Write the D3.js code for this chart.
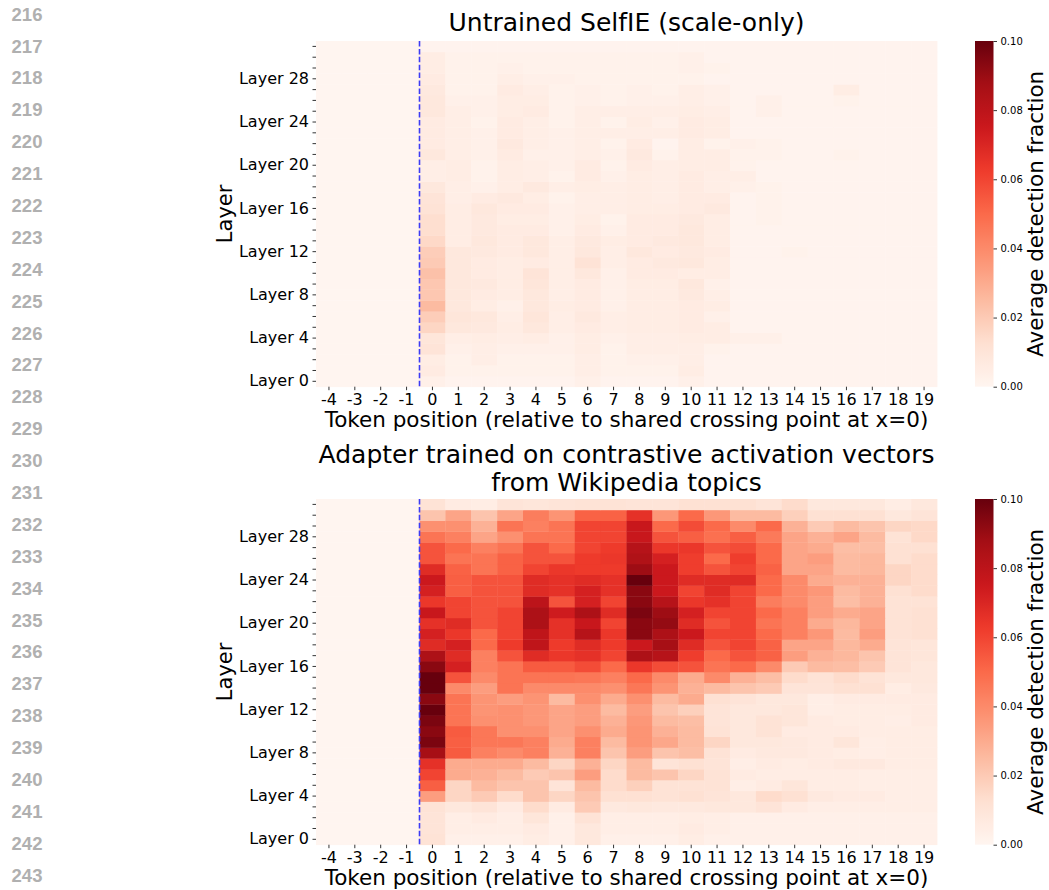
<!DOCTYPE html>
<html>
<head>
<meta charset="utf-8">
<script src="https://cdn.jsdelivr.net/npm/d3@7"></script>
<style>
  html, body { margin: 0; padding: 0; background: #ffffff; }
  svg { display: block; }
  text { font-family: "DejaVu Sans", sans-serif; }
</style>
</head>
<body>
<svg id="fig" width="1049" height="890"></svg>
<script>
// ---- data -------------------------------------------------------------
// token positions relative to the shared crossing point
const positions = d3.range(-4, 20);
// transformer layers
const layers = d3.range(0, 32);
// layers that carry a text label on the y axis
const labelledLayers = [0, 4, 8, 12, 16, 20, 24, 28];
// colour bar ticks
const cbarTicks = [0.00, 0.02, 0.04, 0.06, 0.08, 0.10];
// manuscript line numbers in the margin
const lineNumbers = d3.range(216, 244);
// Reds colour map anchors
const redsStops = ["#fff5f0", "#fee0d2", "#fcbba1", "#fc9272", "#fb6a4a",
                   "#ef3b2c", "#cb181d", "#a50f15", "#67000d"];

// positions -4..-1 lie before the crossing point: nothing detected there
const beforeCrossing = [0, 0, 0, 0];

// Untrained SelfIE (scale-only): rows are layers 0..31, columns positions 0..19
const untrained = [
  [0.003,0.001,0.001,0.001,0.001,0.001,0.003,0.001,0.001,0.001, 0.003,0.001,0.001,0.001,0.001,0.001,0.001,0.001,0.001,0.001],
  [0.006,0.002,0.002,0.002,0.002,0.002,0.004,0.002,0.002,0.002, 0.005,0.001,0.001,0.001,0.001,0.001,0.001,0.001,0.001,0.001],
  [0.005,0.002,0.004,0.002,0.002,0.002,0.004,0.002,0.003,0.003, 0.004,0.001,0.001,0.001,0.001,0.001,0.001,0.001,0.001,0.001],
  [0.010,0.003,0.004,0.003,0.003,0.003,0.005,0.002,0.004,0.004, 0.004,0.002,0.001,0.001,0.001,0.001,0.001,0.001,0.001,0.001],
  [0.009,0.004,0.005,0.004,0.005,0.003,0.005,0.003,0.004,0.004, 0.005,0.005,0.003,0.003,0.001,0.001,0.001,0.001,0.001,0.001],
  [0.016,0.008,0.007,0.005,0.008,0.004,0.006,0.004,0.005,0.005, 0.006,0.005,0.001,0.001,0.001,0.001,0.001,0.001,0.001,0.001],
  [0.019,0.009,0.008,0.004,0.009,0.004,0.007,0.004,0.005,0.005, 0.006,0.003,0.001,0.001,0.001,0.001,0.001,0.001,0.001,0.001],
  [0.025,0.008,0.005,0.003,0.008,0.005,0.006,0.003,0.005,0.005, 0.006,0.005,0.001,0.001,0.001,0.001,0.001,0.001,0.001,0.001],
  [0.021,0.008,0.006,0.005,0.008,0.004,0.006,0.003,0.005,0.005, 0.007,0.004,0.001,0.001,0.001,0.001,0.001,0.001,0.001,0.001],
  [0.021,0.008,0.007,0.005,0.009,0.004,0.006,0.003,0.005,0.005, 0.008,0.003,0.001,0.001,0.001,0.001,0.001,0.001,0.001,0.001],
  [0.023,0.008,0.006,0.005,0.010,0.004,0.008,0.003,0.006,0.006, 0.005,0.005,0.001,0.001,0.001,0.001,0.001,0.001,0.001,0.001],
  [0.020,0.008,0.006,0.005,0.006,0.004,0.011,0.004,0.006,0.007, 0.008,0.005,0.001,0.001,0.001,0.001,0.001,0.001,0.001,0.001],
  [0.019,0.008,0.007,0.006,0.008,0.004,0.008,0.004,0.008,0.006, 0.007,0.006,0.001,0.001,0.002,0.001,0.001,0.001,0.001,0.001],
  [0.015,0.005,0.008,0.006,0.008,0.004,0.007,0.005,0.006,0.007, 0.008,0.005,0.001,0.001,0.001,0.001,0.001,0.001,0.001,0.001],
  [0.013,0.005,0.007,0.006,0.006,0.003,0.006,0.003,0.006,0.006, 0.008,0.005,0.001,0.001,0.001,0.001,0.001,0.001,0.001,0.001],
  [0.013,0.005,0.007,0.005,0.005,0.003,0.005,0.002,0.006,0.006, 0.007,0.005,0.001,0.002,0.001,0.001,0.001,0.001,0.001,0.001],
  [0.011,0.005,0.008,0.006,0.006,0.003,0.004,0.004,0.005,0.005, 0.006,0.007,0.001,0.002,0.001,0.001,0.001,0.001,0.001,0.001],
  [0.010,0.004,0.006,0.007,0.005,0.002,0.004,0.004,0.005,0.004, 0.006,0.006,0.001,0.002,0.001,0.001,0.001,0.001,0.001,0.001],
  [0.008,0.004,0.003,0.005,0.007,0.004,0.005,0.004,0.005,0.004, 0.006,0.004,0.003,0.002,0.001,0.001,0.001,0.001,0.001,0.001],
  [0.004,0.005,0.002,0.005,0.004,0.002,0.006,0.003,0.005,0.004, 0.006,0.004,0.004,0.001,0.001,0.001,0.001,0.001,0.001,0.001],
  [0.004,0.005,0.002,0.005,0.004,0.003,0.006,0.002,0.006,0.004, 0.005,0.005,0.002,0.001,0.001,0.001,0.001,0.001,0.001,0.001],
  [0.008,0.004,0.003,0.006,0.003,0.003,0.004,0.003,0.007,0.002, 0.005,0.005,0.002,0.002,0.001,0.001,0.002,0.001,0.001,0.001],
  [0.006,0.004,0.003,0.007,0.004,0.003,0.004,0.002,0.006,0.001, 0.005,0.002,0.003,0.002,0.001,0.001,0.001,0.001,0.001,0.001],
  [0.006,0.004,0.003,0.006,0.004,0.003,0.004,0.004,0.004,0.004, 0.006,0.005,0.001,0.001,0.001,0.001,0.001,0.001,0.001,0.001],
  [0.006,0.004,0.002,0.006,0.004,0.002,0.004,0.002,0.005,0.003, 0.006,0.005,0.001,0.001,0.001,0.001,0.001,0.001,0.001,0.001],
  [0.008,0.004,0.003,0.005,0.006,0.002,0.004,0.004,0.004,0.004, 0.005,0.004,0.001,0.003,0.001,0.001,0.001,0.001,0.001,0.001],
  [0.008,0.003,0.003,0.005,0.005,0.002,0.003,0.002,0.003,0.003, 0.004,0.003,0.001,0.003,0.001,0.001,0.002,0.001,0.001,0.001],
  [0.007,0.002,0.002,0.006,0.004,0.002,0.003,0.002,0.003,0.002, 0.004,0.003,0.001,0.001,0.001,0.001,0.005,0.001,0.001,0.001],
  [0.006,0.002,0.002,0.004,0.003,0.003,0.002,0.002,0.002,0.002, 0.002,0.001,0.001,0.001,0.001,0.001,0.001,0.001,0.001,0.001],
  [0.005,0.002,0.002,0.003,0.002,0.002,0.002,0.002,0.002,0.002, 0.003,0.002,0.001,0.001,0.001,0.001,0.001,0.001,0.001,0.001],
  [0.005,0.002,0.002,0.002,0.002,0.002,0.002,0.002,0.002,0.002, 0.003,0.001,0.001,0.001,0.001,0.001,0.001,0.001,0.001,0.001],
  [0.001,0.001,0.001,0.001,0.001,0.001,0.001,0.001,0.001,0.001, 0.001,0.001,0.001,0.001,0.001,0.001,0.001,0.001,0.001,0.001]
];

// Adapter trained on contrastive activation vectors: rows are layers 0..31, columns positions 0..19
const adapter = [
  [0.011,0.003,0.003,0.003,0.005,0.003,0.008,0.003,0.003,0.003, 0.005,0.003,0.003,0.003,0.003,0.003,0.003,0.003,0.003,0.003],
  [0.010,0.004,0.004,0.004,0.006,0.003,0.008,0.004,0.004,0.004, 0.006,0.004,0.003,0.003,0.003,0.003,0.003,0.003,0.003,0.003],
  [0.010,0.004,0.006,0.004,0.009,0.003,0.011,0.004,0.004,0.004, 0.005,0.004,0.003,0.003,0.003,0.003,0.003,0.003,0.003,0.003],
  [0.011,0.008,0.010,0.006,0.014,0.006,0.020,0.007,0.008,0.007, 0.007,0.008,0.008,0.010,0.006,0.004,0.004,0.004,0.004,0.004],
  [0.034,0.016,0.020,0.014,0.022,0.016,0.022,0.012,0.012,0.011, 0.012,0.010,0.008,0.014,0.012,0.007,0.006,0.006,0.004,0.004],
  [0.053,0.016,0.025,0.022,0.022,0.010,0.025,0.014,0.018,0.011, 0.011,0.011,0.004,0.006,0.009,0.005,0.005,0.004,0.004,0.004],
  [0.060,0.030,0.028,0.025,0.020,0.022,0.034,0.014,0.025,0.022, 0.016,0.011,0.006,0.005,0.005,0.005,0.005,0.004,0.004,0.004],
  [0.066,0.030,0.030,0.030,0.025,0.016,0.028,0.016,0.025,0.010, 0.012,0.010,0.004,0.006,0.005,0.006,0.007,0.007,0.005,0.005],
  [0.087,0.054,0.043,0.040,0.043,0.028,0.043,0.022,0.034,0.022, 0.024,0.011,0.006,0.007,0.007,0.006,0.005,0.004,0.005,0.005],
  [0.096,0.053,0.046,0.046,0.043,0.030,0.043,0.025,0.037,0.031, 0.025,0.016,0.008,0.008,0.007,0.006,0.009,0.004,0.005,0.005],
  [0.093,0.054,0.046,0.038,0.038,0.032,0.038,0.030,0.037,0.028, 0.025,0.011,0.008,0.011,0.006,0.006,0.006,0.005,0.005,0.005],
  [0.096,0.047,0.038,0.038,0.036,0.032,0.034,0.028,0.036,0.025, 0.024,0.010,0.008,0.011,0.009,0.006,0.005,0.005,0.004,0.006],
  [0.100,0.047,0.037,0.038,0.036,0.032,0.034,0.025,0.034,0.022, 0.018,0.010,0.008,0.008,0.009,0.004,0.005,0.005,0.005,0.006],
  [0.093,0.047,0.037,0.034,0.037,0.025,0.038,0.030,0.038,0.025, 0.030,0.012,0.010,0.008,0.008,0.004,0.006,0.006,0.006,0.006],
  [0.100,0.040,0.034,0.047,0.040,0.040,0.040,0.038,0.046,0.037, 0.028,0.025,0.022,0.020,0.010,0.010,0.012,0.012,0.005,0.007],
  [0.100,0.056,0.040,0.047,0.047,0.047,0.046,0.043,0.050,0.040, 0.030,0.040,0.028,0.024,0.014,0.011,0.014,0.011,0.008,0.008],
  [0.093,0.072,0.043,0.047,0.054,0.054,0.058,0.050,0.064,0.058, 0.056,0.047,0.050,0.040,0.020,0.025,0.024,0.020,0.010,0.008],
  [0.085,0.068,0.043,0.056,0.068,0.064,0.066,0.060,0.085,0.082, 0.062,0.050,0.056,0.052,0.034,0.028,0.026,0.022,0.010,0.009],
  [0.068,0.072,0.050,0.063,0.079,0.063,0.068,0.063,0.075,0.087, 0.068,0.056,0.060,0.052,0.032,0.032,0.026,0.030,0.010,0.009],
  [0.072,0.064,0.050,0.060,0.079,0.066,0.082,0.064,0.093,0.085, 0.075,0.060,0.060,0.050,0.043,0.036,0.025,0.034,0.011,0.012],
  [0.066,0.068,0.056,0.060,0.085,0.066,0.076,0.060,0.093,0.091, 0.068,0.056,0.060,0.047,0.043,0.030,0.026,0.032,0.011,0.012],
  [0.076,0.060,0.056,0.060,0.085,0.074,0.085,0.068,0.096,0.089, 0.072,0.060,0.060,0.050,0.043,0.034,0.030,0.032,0.011,0.012],
  [0.064,0.060,0.056,0.056,0.080,0.056,0.072,0.060,0.093,0.082, 0.064,0.066,0.060,0.044,0.040,0.034,0.024,0.028,0.011,0.011],
  [0.072,0.053,0.056,0.056,0.068,0.066,0.072,0.066,0.093,0.075, 0.060,0.068,0.060,0.050,0.040,0.036,0.025,0.028,0.012,0.014],
  [0.075,0.053,0.056,0.056,0.068,0.066,0.068,0.066,0.100,0.075, 0.068,0.068,0.068,0.050,0.040,0.030,0.028,0.028,0.016,0.014],
  [0.068,0.052,0.047,0.052,0.060,0.064,0.063,0.063,0.089,0.075, 0.062,0.056,0.060,0.052,0.032,0.032,0.025,0.026,0.016,0.014],
  [0.056,0.047,0.047,0.052,0.056,0.056,0.063,0.064,0.084,0.072, 0.062,0.050,0.062,0.050,0.032,0.034,0.025,0.026,0.012,0.014],
  [0.056,0.050,0.043,0.047,0.056,0.050,0.060,0.063,0.082,0.064, 0.064,0.056,0.058,0.050,0.032,0.030,0.024,0.024,0.012,0.012],
  [0.047,0.043,0.032,0.038,0.047,0.047,0.060,0.060,0.076,0.056, 0.053,0.048,0.053,0.045,0.032,0.028,0.032,0.025,0.011,0.015],
  [0.038,0.038,0.028,0.047,0.043,0.047,0.060,0.060,0.076,0.050, 0.058,0.050,0.040,0.050,0.028,0.020,0.025,0.022,0.016,0.015],
  [0.022,0.032,0.022,0.032,0.044,0.037,0.052,0.052,0.066,0.036, 0.050,0.036,0.025,0.025,0.018,0.012,0.012,0.012,0.008,0.010],
  [0.011,0.006,0.005,0.010,0.009,0.010,0.011,0.011,0.010,0.010, 0.012,0.012,0.012,0.010,0.014,0.008,0.008,0.008,0.005,0.008]
];

// ---- figure -------------------------------------------------------------
const svg = d3.select("#fig");
const W = 1049, H = 890;
svg.append("rect").attr("width", W).attr("height", H).attr("fill", "#ffffff");

const vmax = 0.1;
const color = d3.scaleLinear()
  .domain(redsStops.map((_, i) => i * vmax / (redsStops.length - 1)))
  .range(redsStops)
  .interpolate(d3.interpolateRgb)
  .clamp(true);

// margin line numbers
const lineY = d3.scaleLinear().domain([216, 243]).range([14, 875]);
svg.append("g").selectAll("text").data(lineNumbers).join("text")
  .attr("x", 27)
  .attr("y", d => lineY(d))
  .attr("dy", "0.36em")
  .attr("text-anchor", "middle")
  .style("font-family", "'Liberation Sans', Arial, sans-serif")
  .style("font-weight", "bold")
  .style("font-size", "18.5px")
  .attr("fill", "#b0b0b0")
  .text(d => d);

const plotLeft = 316, plotRight = 937, plotHeight = 345.7;
const cbarLeft = 975, cbarWidth = 18.5;

const x = d3.scaleBand().domain(positions).range([plotLeft, plotRight]).padding(0);

// gradient for the colour bars
const defs = svg.append("defs");
const grad = defs.append("linearGradient").attr("id", "redsGrad")
  .attr("x1", 0).attr("y1", 1).attr("x2", 0).attr("y2", 0);
d3.range(0, 1.0001, 0.02).forEach(t => {
  grad.append("stop").attr("offset", t).attr("stop-color", color(t * vmax));
});

function drawPanel(cfg) {
  const top = cfg.top;
  const g = svg.append("g");
  const y = d3.scaleBand().domain(layers.slice().reverse()).range([top, top + plotHeight]).padding(0);

  // heat cells
  const cells = [];
  layers.forEach(L => {
    const row = beforeCrossing.concat(cfg.values[L]);
    positions.forEach((p, i) => cells.push({ layer: L, pos: p, v: row[i] }));
  });
  g.append("g").selectAll("rect").data(cells).join("rect")
    .attr("x", d => x(d.pos))
    .attr("y", d => y(d.layer))
    .attr("width", x.bandwidth() + 0.4)
    .attr("height", y.bandwidth() + 0.4)
    .attr("fill", d => color(d.v));

  // crossing point marker between positions -1 and 0
  const xc = x(0);
  g.append("line")
    .attr("x1", xc).attr("x2", xc)
    .attr("y1", top).attr("y2", top + plotHeight)
    .attr("stroke", "#3c3cf5")
    .attr("stroke-width", 1.6)
    .attr("stroke-dasharray", "5.5,2.4");

  // y axis
  const yAxis = d3.axisLeft(y)
    .tickValues(layers)
    .tickSize(3.5)
    .tickPadding(3.5)
    .tickFormat(d => labelledLayers.includes(d) ? "Layer " + d : "");
  const ya = g.append("g").attr("transform", `translate(${plotLeft},0)`).call(yAxis);
  ya.select(".domain").remove();
  ya.selectAll("line").attr("stroke", "#000").attr("stroke-width", 0.8);
  ya.selectAll("text").style("font-family", "'DejaVu Sans', sans-serif").style("font-size", "16px").attr("fill", "#000");

  // x axis
  const xAxis = d3.axisBottom(x).tickSize(3.5).tickPadding(3.5);
  const xa = g.append("g").attr("transform", `translate(0,${top + plotHeight})`).call(xAxis);
  xa.select(".domain").remove();
  xa.selectAll("line").attr("stroke", "#000").attr("stroke-width", 0.8);
  xa.selectAll("text").style("font-family", "'DejaVu Sans', sans-serif").style("font-size", "16px").attr("fill", "#000");

  // axis titles
  g.append("text")
    .attr("x", (plotLeft + plotRight) / 2)
    .attr("y", top + plotHeight + 40.5)
    .attr("text-anchor", "middle")
    .style("font-size", "21.5px")
    .text("Token position (relative to shared crossing point at x=0)");
  g.append("text")
    .attr("transform", `translate(232,${top + plotHeight / 2}) rotate(-90)`)
    .attr("text-anchor", "middle")
    .style("font-size", "21px")
    .text("Layer");

  // panel title
  const titleG = g.append("g");
  cfg.title.forEach((line, i) => {
    titleG.append("text")
      .attr("x", (plotLeft + plotRight) / 2)
      .attr("y", cfg.titleBaseline + i * 28)
      .attr("text-anchor", "middle")
      .style("font-size", "25px")
      .text(line);
  });

  // colour bar
  const cy = d3.scaleLinear().domain([0, vmax]).range([top + plotHeight, top]);
  g.append("rect")
    .attr("x", cbarLeft).attr("y", top)
    .attr("width", cbarWidth).attr("height", plotHeight)
    .attr("fill", "url(#redsGrad)");
  const cAxis = d3.axisRight(cy).tickValues(cbarTicks).tickFormat(d3.format(".2f")).tickSize(3.5).tickPadding(3.5);
  const ca = g.append("g").attr("transform", `translate(${cbarLeft + cbarWidth},0)`).call(cAxis);
  ca.select(".domain").remove();
  ca.selectAll("line").attr("stroke", "#000").attr("stroke-width", 0.8);
  ca.selectAll("text").style("font-family", "'DejaVu Sans', sans-serif").style("font-size", "10px").attr("fill", "#000");
  g.append("text")
    .attr("transform", `translate(1043,${top + plotHeight / 2}) rotate(-90)`)
    .attr("text-anchor", "middle")
    .style("font-size", "21.5px")
    .text("Average detection fraction");
}

drawPanel({ top: 41, values: untrained, title: ["Untrained SelfIE (scale-only)"], titleBaseline: 31 });
drawPanel({ top: 499, values: adapter,
  title: ["Adapter trained on contrastive activation vectors", "from Wikipedia topics"], titleBaseline: 463 });
</script>
</body>
</html>
